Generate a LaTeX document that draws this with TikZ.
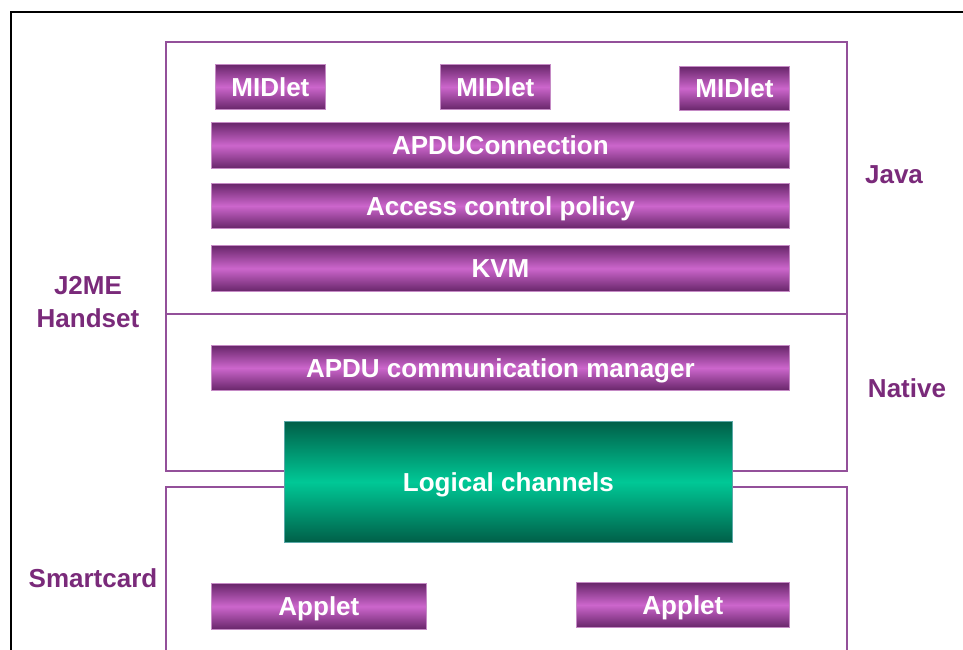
\documentclass[tikz,border=0pt]{standalone}
\usepackage{fontspec}
\setmainfont{Liberation Sans}
\definecolor{barDark}{HTML}{68266A}
\definecolor{barLight}{HTML}{CC66CC}
\definecolor{barEdge}{HTML}{C58AC5}
\definecolor{chDark}{HTML}{005F48}
\definecolor{chLight}{HTML}{00C896}
\definecolor{chEdge}{HTML}{5AA8A8}
\definecolor{frameLine}{HTML}{93509A}
\definecolor{labelInk}{HTML}{7A2A7A}
\tikzset{
  bigtext/.style={font=\fontsize{26}{31}\selectfont\bfseries},
  bar/.style={draw=barEdge, line width=0.8pt, top color=barDark, bottom color=barDark,
    middle color=barLight, text=white, bigtext, inner sep=0pt, anchor=north west,
    text height=18.6pt, text depth=0pt},
  channel/.style={draw=chEdge, line width=0.8pt, top color=chDark, bottom color=chDark,
    middle color=chLight, text=white, bigtext, inner sep=0pt, anchor=north west,
    text height=18.6pt, text depth=0pt},
  layer/.style={draw=frameLine, line width=1.6pt, inner sep=0pt, anchor=north west},
  sidelabel/.style={text=labelInk, bigtext, align=center, inner sep=0pt},
}
\begin{document}
\begin{tikzpicture}[x=1pt, y=-1pt]
  \useasboundingbox (0,0) rectangle (963,650);
  % outer frame, running off the right and bottom edges
  \draw[line width=2.5pt, black] (11,670) -- (11,12) -- (990,12);

  % handset and smartcard layers
  \node[layer, minimum width=681, minimum height=429] (handset) at (165,41) {};
  \node[layer, minimum width=681, minimum height=200] (card) at (165,486) {};
  \draw[frameLine, line width=1.6pt] (handset.west |- 0,314) -- (handset.east |- 0,314);

  % Java layer
  \node[bar, minimum width=110, minimum height=45] (mid1) at (215,64) {MIDlet};
  \node[bar, minimum width=110, minimum height=45] (mid2) at (440,64) {MIDlet};
  \node[bar, minimum width=110, minimum height=44] (mid3) at (679,66) {MIDlet};
  \node[bar, minimum width=578, minimum height=46] (apduc) at (211,122) {APDUConnection};
  \node[bar, minimum width=578, minimum height=45] (acp) at (211,183) {Access control policy};
  \node[bar, minimum width=578, minimum height=46] (kvm) at (211,245) {KVM};

  % native layer
  \node[bar, minimum width=578, minimum height=45] (mgr) at (211,345) {APDU communication manager};
  \node[channel, minimum width=448, minimum height=121] (chan) at (284,421) {Logical channels};

  % smartcard applets
  \node[bar, minimum width=215, minimum height=46] (app1) at (211,583) {Applet};
  \node[bar, minimum width=213, minimum height=45] (app2) at (576,582) {Applet};

  % side labels
  \node[sidelabel] (handsetlbl) at (88,302) {J2ME\\[2pt]Handset};
  \node[sidelabel] (javalbl) at (894,175) {Java};
  \node[sidelabel] (nativelbl) at (907,388) {Native};
  \node[sidelabel] (cardlbl) at (93,578) {Smartcard};
\end{tikzpicture}
\end{document}
